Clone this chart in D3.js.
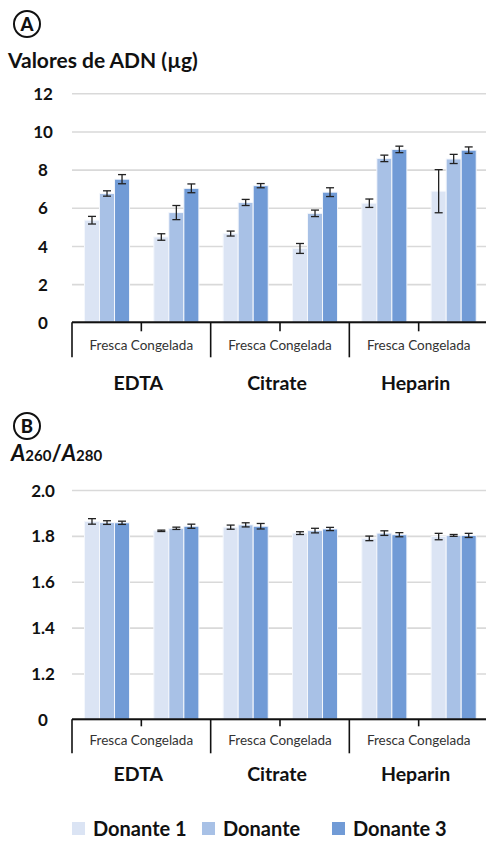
<!DOCTYPE html>
<html>
<head>
<meta charset="utf-8">
<script src="https://cdn.jsdelivr.net/npm/d3@7"></script>
<style>
    body { margin: 0; background: #fff; }
    svg text { font-family: Lato, "DejaVu Sans", sans-serif; fill: #111; }
</style>
</head>
<body>
<div id="chart"></div>
<script>
// categories
const groups = ["EDTA", "Citrate", "Heparin"];
const conditions = ["Fresca", "Congelada"];
const donors = ["Donante 1", "Donante", "Donante 3"];
const donorColors = ["#dbe4f4", "#a8c1e6", "#719bd6"];

// A: DNA yield (µg), rows = EDTA F, EDTA C, Citrate F, Citrate C, Heparin F, Heparin C
const dnaValues = [
    [5.35, 6.75, 7.50],
    [4.47, 5.75, 7.02],
    [4.65, 6.28, 7.16],
    [3.87, 5.71, 6.82],
    [6.24, 8.59, 9.06],
    [6.87, 8.56, 9.02]
];
const dnaErrors = [
    [0.20, 0.14, 0.24],
    [0.17, 0.37, 0.23],
    [0.13, 0.16, 0.11],
    [0.26, 0.17, 0.23],
    [0.22, 0.17, 0.17],
    [1.13, 0.24, 0.17]
];
const dnaTicks = [0, 2, 4, 6, 8, 10, 12];
const dnaTickLabels = ["0", "2", "4", "6", "8", "10", "12"];

// B: A260/A280 ratio (axis is broken: bottom tick reads 0)
const ratioValues = [
    [1.863, 1.858, 1.857],
    [1.822, 1.833, 1.842],
    [1.838, 1.848, 1.842],
    [1.812, 1.823, 1.830],
    [1.789, 1.812, 1.805],
    [1.797, 1.802, 1.802]
];
const ratioErrors = [
    [0.012, 0.008, 0.007],
    [0.003, 0.005, 0.009],
    [0.009, 0.009, 0.012],
    [0.006, 0.010, 0.007],
    [0.010, 0.010, 0.009],
    [0.014, 0.004, 0.009]
];
const ratioTicks = [1.0, 1.2, 1.4, 1.6, 1.8, 2.0];
const ratioTickLabels = ["0", "1.2", "1.4", "1.6", "1.8", "2.0"];


class GroupedBarChart {
    constructor(svg, config) {
        this.svg = svg;
        this.config = config;
        this.initVis();
        this.updateVis();
    }

    initVis() {
        let vis = this;
        let c = vis.config;

        vis.left = 72;
        vis.right = 488;

        vis.g = vis.svg.append("g");

        // one band per group/condition pair
        vis.keys = [];
        groups.forEach(g => conditions.forEach(k => vis.keys.push(g + "|" + k)));

        vis.x0 = d3.scaleBand()
            .domain(vis.keys)
            .range([vis.left, vis.right]);

        let bw = vis.x0.bandwidth();
        vis.x1 = d3.scaleBand()
            .domain(donors)
            .range([bw * 0.18, bw * 0.83]);

        vis.y = d3.scaleLinear()
            .domain(c.domain)
            .range([c.bottom, c.top]);

        // gridlines + tick labels
        vis.yAxis = d3.axisLeft(vis.y)
            .tickValues(c.ticks)
            .tickSize(-(vis.right - vis.left))
            .tickFormat((d, i) => c.tickLabels[i]);

        vis.g.append("g")
            .attr("class", "y-axis")
            .attr("transform", `translate(${vis.left},0)`);

        vis.bars = vis.g.append("g").attr("class", "bars");
        vis.errs = vis.g.append("g").attr("class", "errs");
        vis.bottomAxis = vis.g.append("g").attr("class", "x-axis");
    }

    updateVis() {
        let vis = this;
        let c = vis.config;

        let ya = vis.g.select(".y-axis").call(vis.yAxis);
        ya.select(".domain").remove();
        ya.selectAll(".tick line")
            .attr("stroke", "#d9d9d9")
            .attr("stroke-width", 1.6);
        ya.selectAll(".tick text")
            .attr("x", 43 - vis.left)
            .attr("text-anchor", "middle")
            .attr("dy", "0.36em")
            .style("font-size", "17px")
            .style("font-weight", "bold")
            .style("fill", "#111");

        // flatten data
        let rows = [];
        c.values.forEach((row, i) => {
            row.forEach((v, j) => {
                rows.push({ key: vis.keys[i], donor: donors[j], j: j, value: v, err: c.errors[i][j] });
            });
        });

        vis.bars.selectAll("rect")
            .data(rows)
            .enter().append("rect")
            .attr("x", d => vis.x0(d.key) + vis.x1(d.donor))
            .attr("width", vis.x1.bandwidth())
            .attr("y", d => vis.y(d.value))
            .attr("height", d => vis.y(c.domain[0]) - vis.y(d.value))
            .attr("fill", d => donorColors[d.j])
            .attr("stroke", "#f4f7fc")
            .attr("stroke-width", 1);

        let cap = 4;
        let eg = vis.errs.selectAll("g")
            .data(rows)
            .enter().append("g")
            .attr("transform", d => `translate(${vis.x0(d.key) + vis.x1(d.donor) + vis.x1.bandwidth() / 2},0)`)
            .attr("stroke", "#222")
            .attr("stroke-width", 1.3);

        eg.append("line")
            .attr("y1", d => vis.y(d.value - d.err))
            .attr("y2", d => vis.y(d.value + d.err));
        eg.append("line")
            .attr("x1", -cap).attr("x2", cap)
            .attr("y1", d => vis.y(d.value + d.err))
            .attr("y2", d => vis.y(d.value + d.err));
        eg.append("line")
            .attr("x1", -cap).attr("x2", cap)
            .attr("y1", d => vis.y(d.value - d.err))
            .attr("y2", d => vis.y(d.value - d.err));

        // category axis
        let ax = vis.bottomAxis;
        ax.append("line")
            .attr("x1", vis.left).attr("x2", vis.right)
            .attr("y1", c.bottom).attr("y2", c.bottom)
            .attr("stroke", "#111").attr("stroke-width", 2);

        let gw = vis.x0.bandwidth() * conditions.length;
        groups.forEach((g, i) => {
            let gx = vis.x0(g + "|" + conditions[0]);
            ax.append("line")
                .attr("x1", gx).attr("x2", gx)
                .attr("y1", c.bottom).attr("y2", c.bottom + c.sepLen)
                .attr("stroke", "#111").attr("stroke-width", 1.6);
            ax.append("line")
                .attr("x1", gx + gw / 2).attr("x2", gx + gw / 2)
                .attr("y1", c.bottom).attr("y2", c.bottom + c.tickLen)
                .attr("stroke", "#111").attr("stroke-width", 1.6);
            ax.append("text")
                .attr("x", gx + gw / 2)
                .attr("y", c.subLabelY)
                .attr("text-anchor", "middle")
                .style("font-size", "13.5px")
                .style("fill", "#333")
                .text(conditions.join(" "));
            ax.append("text")
                .attr("x", gx + gw / 2 - 3)
                .attr("y", c.groupLabelY)
                .attr("text-anchor", "middle")
                .style("font-size", "19.5px")
                .style("font-weight", "bold")
                .text(g);
        });
    }
}

let svg = d3.select("#chart").append("svg")
    .attr("width", 486)
    .attr("height", 842);

// panel badges
function badge(letter, cx, cy) {
    svg.append("circle")
        .attr("cx", cx).attr("cy", cy).attr("r", 13)
        .attr("fill", "none").attr("stroke", "#111").attr("stroke-width", 2);
    svg.append("text")
        .attr("x", cx).attr("y", cy + 6.5)
        .attr("text-anchor", "middle")
        .style("font-size", "18.5px")
        .style("font-weight", "900")
        .text(letter);
}
badge("A", 27, 24);
badge("B", 27, 426);

svg.append("text")
    .attr("x", 8).attr("y", 68)
    .style("font-size", "21px")
    .style("font-weight", "bold")
    .text("Valores de ADN (µg)");

let ratioLabel = svg.append("text")
    .attr("x", 11).attr("y", 461)
    .style("font-weight", "bold");
ratioLabel.append("tspan").style("font-size", "22px").style("font-style", "italic").text("A");
ratioLabel.append("tspan").style("font-size", "15px").text("260");
ratioLabel.append("tspan").style("font-size", "22px").text("/");
ratioLabel.append("tspan").style("font-size", "22px").style("font-style", "italic").text("A");
ratioLabel.append("tspan").style("font-size", "15px").text("280");

new GroupedBarChart(svg, {
    top: 93.3, bottom: 322.3, domain: [0, 12],
    ticks: dnaTicks, tickLabels: dnaTickLabels,
    values: dnaValues, errors: dnaErrors,
    tickLen: 9, sepLen: 35, subLabelY: 350, groupLabelY: 390
});

new GroupedBarChart(svg, {
    top: 490, bottom: 719.3, domain: [1.0, 2.0],
    ticks: ratioTicks, tickLabels: ratioTickLabels,
    values: ratioValues, errors: ratioErrors,
    tickLen: 7, sepLen: 34, subLabelY: 745, groupLabelY: 781
});

// legend
let legend = svg.append("g");
donors.forEach((d, i) => {
    let lx = 72 + i * 130;
    legend.append("rect")
        .attr("x", lx).attr("y", 822)
        .attr("width", 13).attr("height", 13)
        .attr("fill", donorColors[i]);
    legend.append("text")
        .attr("x", lx + 21).attr("y", 836)
        .style("font-size", "20px")
        .style("font-weight", "bold")
        .text(d);
});
</script>
</body>
</html>
